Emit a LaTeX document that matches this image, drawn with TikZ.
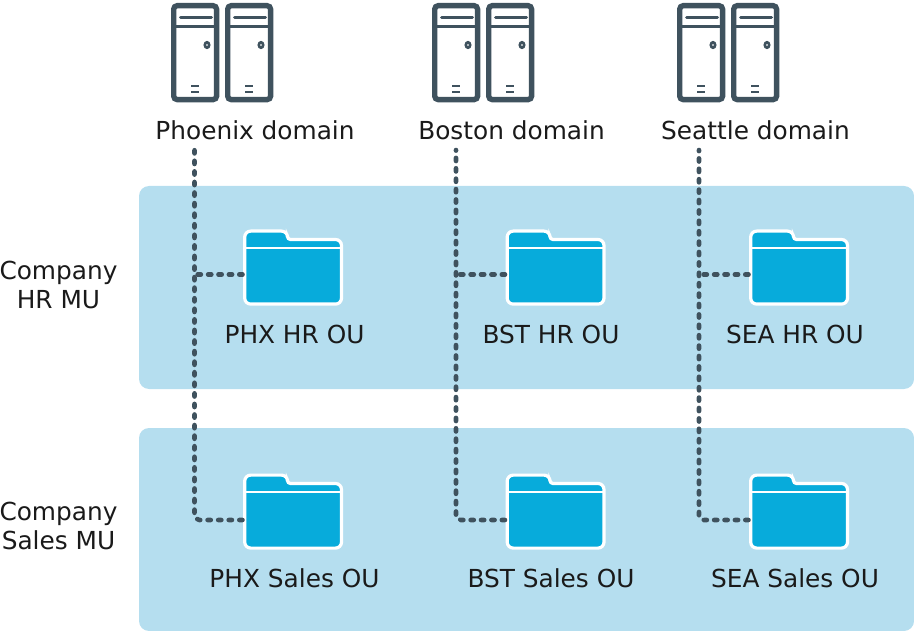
\documentclass[tikz,border=0pt]{standalone}
\usepackage{fontspec}
\setmainfont{DejaVu Sans}
\definecolor{panelblue}{HTML}{B5DEEF}
\definecolor{folderblue}{HTML}{07ABDB}
\definecolor{slatedark}{HTML}{3F525E}
\definecolor{inkdark}{HTML}{1A1A1A}
\tikzset{
  panelbox/.style={fill=panelblue,rounded corners=10pt},
  serverbody/.style={draw=slatedark,line width=5.4pt,rounded corners=3.5pt,fill=white},
  serverline/.style={draw=slatedark,line width=3pt,line cap=round},
  folderbody/.style={draw=white,line width=3.2pt,fill=folderblue,rounded corners=6pt},
  labeltext/.style={font=\fontsize{24.8}{29}\selectfont,text=inkdark,inner sep=0pt,align=center},
  folderanchor/.style={minimum width=101pt,minimum height=60pt,inner sep=0pt,outer sep=0pt},
  dotline/.style={draw=slatedark,line width=4.6pt,line cap=round,dash pattern=on 3.2pt off 7.2pt,rounded corners=5pt},
}
\newcommand{\serverunit}[1]{%
  \path[serverbody] (#1+2.7,5.7) rectangle (#1+45.6,99.6);
  \draw[slatedark,line width=3pt] (#1+2.7,27) -- (#1+45.6,27);
  \draw[serverline] (#1+9.5,18) -- (#1+40.5,18);
  \draw[slatedark,line width=2.6pt,fill=white] (#1+36,45) ellipse (2.2pt and 2.7pt);
  \draw[slatedark,line width=2.4pt] (#1+20,86) -- (#1+28,86) (#1+20,92) -- (#1+28,92);
}
\newcommand{\folderat}[4]{%
  \path[folderbody] (#2+1.2,#3+40) [rounded corners=6pt] -- (#2+1.2,#3+1.6) -- (#2+44,#3+1.6)
    [rounded corners=3pt] -- (#2+44,#3+10) [rounded corners=6pt] -- (#2+98,#3+10) -- (#2+98,#3+74.6) -- (#2+1.2,#3+74.6) -- cycle;
  \draw[white,line width=2.6pt] (#2+1.2,#3+18.5) -- (#2+98,#3+18.5);
  \node[folderanchor] (#1) at (#2+49.5,#4) {};
}
\begin{document}
\begin{tikzpicture}[x=1pt,y=-1pt]
\useasboundingbox (0,0) rectangle (914,631);
\path[panelbox] (139,186) rectangle (914,389);
\path[panelbox] (139,428) rectangle (914,631);
\serverunit{171}\serverunit{225}
\serverunit{432}\serverunit{486}
\serverunit{677}\serverunit{731}
\folderat{phxhr}{243.5}{229.5}{274.5}
\folderat{bsthr}{506}{229.5}{274.5}
\folderat{seahr}{749.5}{229.5}{274.5}
\folderat{phxsales}{243.5}{473.5}{520}
\folderat{bstsales}{506}{473.5}{520}
\folderat{seasales}{749.5}{473.5}{520}
\node[labeltext] (phx) at (255,130) {Phoenix domain};
\node[labeltext] (bst) at (511.5,130) {Boston domain};
\node[labeltext] (sea) at (755.5,130) {Seattle domain};
\node[labeltext] (mhr) at (58.5,285) {Company\\HR MU};
\node[labeltext] (msales) at (58.5,526) {Company\\Sales MU};
\node[labeltext] (lphxhr) at (294.5,334) {PHX HR OU};
\node[labeltext] (lbsthr) at (551,334) {BST HR OU};
\node[labeltext] (lseahr) at (795,334) {SEA HR OU};
\node[labeltext] (lphxsales) at (294.5,578) {PHX Sales OU};
\node[labeltext] (lbstsales) at (551,578) {BST Sales OU};
\node[labeltext] (lseasales) at (795,578) {SEA Sales OU};
\coordinate (tphx) at (194.5,150);
\coordinate (tbst) at (456,150);
\coordinate (tsea) at (699,150);
\draw[dotline,dash pattern=on 3.2pt off 7.37pt] (phxsales.west) -| (tphx);
\draw[dotline] (bstsales.west) -| (tbst);
\draw[dotline] (seasales.west) -| (tsea);
\draw[dotline] (phxhr.west) -- (tphx |- phxhr.west);
\draw[dotline] (bsthr.west) -- (tbst |- bsthr.west);
\draw[dotline] (seahr.west) -- (tsea |- seahr.west);
\end{tikzpicture}
\end{document}
